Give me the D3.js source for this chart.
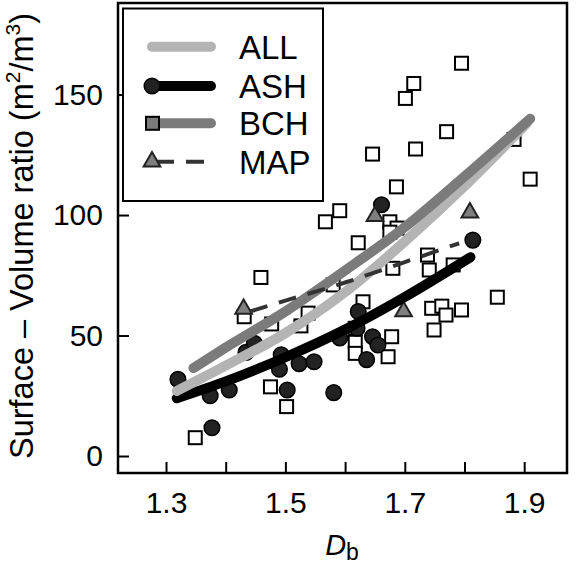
<!DOCTYPE html>
<html><head><meta charset="utf-8">
<script src="https://cdn.jsdelivr.net/npm/d3@7"></script>
<style>body{margin:0;background:#fff}svg{display:block}text{font-family:"Liberation Sans",Arial,sans-serif;fill:#000}</style>
</head><body><svg id="c" width="576" height="565"></svg>
<script>
// ---- data ----
const xTicks = [1.3, 1.4, 1.5, 1.6, 1.7, 1.8, 1.9];
const xTickLabels = ["1.3", "", "1.5", "", "1.7", "", "1.9"];
const yTicks = [0, 50, 100, 150];
const legendNames = ["ALL", "ASH", "BCH", "MAP"];

const ashX = [1.32,1.377,1.374,1.406,1.434,1.448,1.49,1.493,1.503,1.523,1.548,1.581,1.591,1.622,1.636,1.646,1.655,1.661,1.814,1.62];
const ashY = [31.8,11.7,25,27.4,43,46.8,36,42,27.4,38.3,39.1,26.3,49,60,40,49.5,46.1,104.3,89.6,53];

const bchX = [1.485,1.795,1.715,1.701,1.770,1.718,1.646,1.883,1.91,1.686,1.591,1.567,1.622,1.459,1.675,1.687,1.675,1.738,1.741,1.781,1.68,1.58,1.431,1.477,1.526,1.538,1.63,1.745,1.762,1.769,1.795,1.749,1.855,1.678,1.672,1.617,1.617,1.617,1.475,1.502,1.349];
const bchY = [179,163,154.6,148.4,134.6,127.4,125.3,131.4,114.9,111.7,101.8,97.2,88.5,74.1,97.2,94.6,92.9,83.4,77.2,79.3,77.9,71,57.8,54.8,54,59.3,64,61.3,62.2,58.5,60.6,52.3,65.9,49.5,41.2,53,47.2,42.6,28.7,20.5,7.6];

const mapX = [1.43,1.65,1.809,1.698];
const mapY = [61,99.5,101,60];

const allFitX = [1.318,1.4,1.5,1.6,1.7,1.8,1.904];
const allFitY = [27,37.5,51,68,89,112,138];
const ashFitX = [1.318,1.4,1.5,1.6,1.7,1.81];
const ashFitY = [24,31,41,52.5,66,82.5];
const bchFitX = [1.346,1.4,1.5,1.6,1.7,1.8,1.91];
const bchFitY = [36.5,45,60,77,95,116,140];
const mapFitX = [1.441,1.5,1.6,1.7,1.791];
const mapFitY = [60,64.5,72,80.5,88.3];

// ---- layout ----
const L = 118, R = 567, T = 3, B = 473;
const x = d3.scaleLinear().domain([1.2196, 1.9717]).range([L, R]);
const y = d3.scaleLinear().domain([-7.05, 188]).range([B, T]);
const svg = d3.select("#c");

const zip = (a, b) => a.map((v, i) => [v, b[i]]);
const line = d3.line().x(d => x(d[0])).y(d => y(d[1])).curve(d3.curveMonotoneX);

// axes with inward ticks
const gx = svg.append("g").attr("transform", `translate(0,${B})`)
  .call(d3.axisBottom(x).tickValues(xTicks).tickSize(-11).tickFormat((d, i) => xTickLabels[i]).tickPadding(20));
gx.select(".domain").remove();
gx.selectAll("line").attr("stroke", "#000").attr("stroke-width", 2);
gx.selectAll("text").attr("font-size", 30).attr("dy", "0.71em").attr("y", 19);

const gy = svg.append("g").attr("transform", `translate(${L},0)`)
  .call(d3.axisLeft(y).tickValues(yTicks).tickSize(-11).tickPadding(15));
gy.select(".domain").remove();
gy.selectAll("line").attr("stroke", "#000").attr("stroke-width", 2);
gy.selectAll("text").attr("font-size", 30).attr("x", -15);

// points
svg.append("g").selectAll("rect").data(zip(bchX, bchY)).join("rect")
  .attr("x", d => x(d[0]) - 6.5).attr("y", d => y(d[1]) - 6.5)
  .attr("width", 13).attr("height", 13)
  .attr("fill", "#fff").attr("stroke", "#000").attr("stroke-width", 2);
svg.append("g").selectAll("circle").data(zip(ashX, ashY)).join("circle")
  .attr("cx", d => x(d[0])).attr("cy", d => y(d[1])).attr("r", 7.8)
  .attr("fill", "#222").attr("stroke", "#000").attr("stroke-width", 1.5);
svg.append("g").selectAll("path").data(zip(mapX, mapY)).join("path")
  .attr("transform", d => `translate(${x(d[0])},${y(d[1])})`)
  .attr("d", d3.symbol(d3.symbolTriangle, 120)())
  .attr("fill", "#7f7f7f").attr("stroke", "#222").attr("stroke-width", 2);

// fitted curves
svg.append("path").datum(zip(ashFitX, ashFitY)).attr("d", line)
  .attr("fill", "none").attr("stroke", "#000").attr("stroke-width", 10).attr("stroke-linecap", "round");
svg.append("path").datum(zip(allFitX, allFitY)).attr("d", line)
  .attr("fill", "none").attr("stroke", "#b4b4b4").attr("stroke-width", 10).attr("stroke-linecap", "round");
svg.append("path").datum(zip(bchFitX, bchFitY)).attr("d", line)
  .attr("fill", "none").attr("stroke", "#7b7b7b").attr("stroke-width", 10).attr("stroke-linecap", "round");
svg.append("path").datum(zip(mapFitX, mapFitY)).attr("d", line)
  .attr("fill", "none").attr("stroke", "#333").attr("stroke-width", 4).attr("stroke-dasharray", "18,12");

// frame
svg.append("rect").attr("x", L).attr("y", T).attr("width", R - L).attr("height", B - T)
  .attr("fill", "none").attr("stroke", "#000").attr("stroke-width", 2.5);

// legend
const lg = svg.append("g");
lg.append("rect").attr("x", 123).attr("y", 8.5).attr("width", 200).attr("height", 192.5)
  .attr("fill", "#fff").attr("stroke", "#000").attr("stroke-width", 2);
const ly = [46.7, 86, 123.3, 161.7];
const lstyle = [
  {c: "#b4b4b4", w: 10, dash: null},
  {c: "#000", w: 10, dash: null},
  {c: "#7b7b7b", w: 10, dash: null},
  {c: "#333", w: 4, dash: "18,12"}];
legendNames.forEach((n, i) => {
  const s = lstyle[i];
  lg.append("line").attr("x1", i === 3 ? 156 : 152).attr("x2", i === 3 ? 212 : 211)
    .attr("y1", ly[i]).attr("y2", ly[i])
    .attr("stroke", s.c).attr("stroke-width", s.w)
    .attr("stroke-linecap", s.dash ? "butt" : "round")
    .attr("stroke-dasharray", s.dash);
  lg.append("text").attr("x", 239).attr("y", ly[i]).attr("dy", "0.36em")
    .attr("font-size", 33).text(n);
});
lg.append("circle").attr("cx", 152).attr("cy", ly[1]).attr("r", 7.8).attr("fill", "#222").attr("stroke", "#000").attr("stroke-width", 1.5);
lg.append("rect").attr("x", 146).attr("y", ly[2] - 6.5).attr("width", 13).attr("height", 13)
  .attr("fill", "#7b7b7b").attr("stroke", "#000").attr("stroke-width", 2);
lg.append("path").attr("transform", `translate(152,${ly[3]})`).attr("d", d3.symbol(d3.symbolTriangle, 120)())
  .attr("fill", "#7f7f7f").attr("stroke", "#222").attr("stroke-width", 2);

// axis titles
const yt = svg.append("text").attr("transform", "translate(33,236) rotate(-90)")
  .attr("text-anchor", "middle").attr("font-size", 32.5);
yt.append("tspan").text("Surface – Volume ratio (m");
yt.append("tspan").attr("font-size", 21).attr("dy", -13).text("2");
yt.append("tspan").attr("dy", 13).text("/m");
yt.append("tspan").attr("font-size", 21).attr("dy", -13).text("3");
yt.append("tspan").attr("dy", 13).text(")");

const xt = svg.append("text").attr("x", 342).attr("y", 555).attr("text-anchor", "middle").attr("font-size", 29);
xt.append("tspan").attr("font-style", "italic").text("D");
xt.append("tspan").attr("font-size", 23).attr("dy", 5).text("b");
</script></body></html>
